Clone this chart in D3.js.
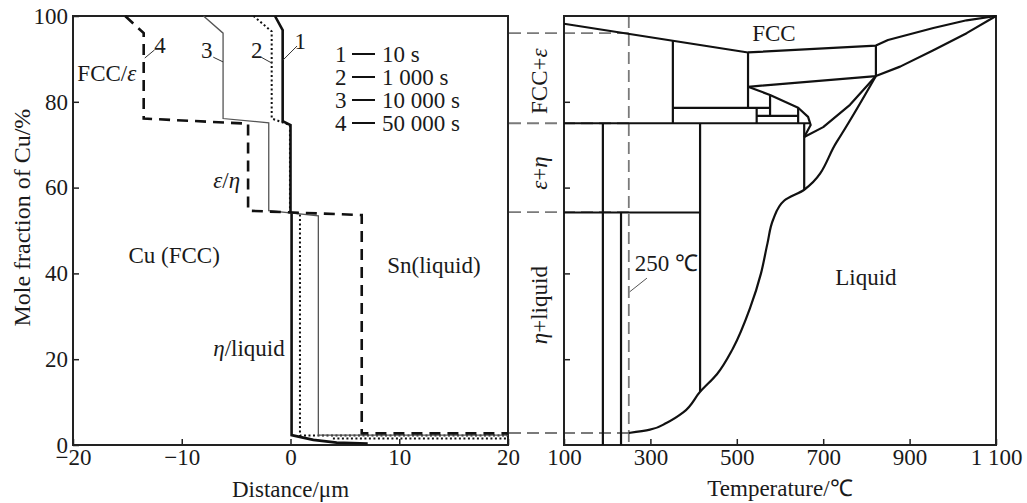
<!DOCTYPE html>
<html>
<head>
<meta charset="utf-8">
<script src="https://cdn.jsdelivr.net/npm/d3@7"></script>
<style>
  body { margin: 0; background: #fff; }
  svg text { font-family: "Liberation Serif", "Times New Roman", serif; fill: #1a1a1a; }
</style>
</head>
<body>
<div id="chart"></div>
<script>
// left panel: mole fraction of Cu vs distance, [distance um, Cu %]
const curve1 = [[-1.43, 100], [-0.72, 96.7], [-0.72, 75.5], [0, 74.6], [0, 54.2], [0.1, 54], [0.1, 2.3],
  [2.1, 1.2], [4.25, 0.55], [7.1, 0.35]];
const curve2 = [[-3.4, 100], [-1.73, 96.4], [-1.73, 76.1], [-0.05, 74.6], [-0.05, 54.1], [0.87, 54], [0.87, 2.2],
  [20, 2.2], null, [3.9, 1.5], [20, 1.5]];
const curve3 = [[-8, 100], [-6.2, 96], [-6.2, 76.1], [-2, 75.1], [-2, 54.6], [2.56, 53.4], [2.56, 2.3], [20, 2.3]];
const curve4 = [[-15.2, 100], [-13.5, 96], [-13.5, 76.1], [-3.9, 74.9], [-3.9, 54.6], [6.55, 53.6], [6.55, 2.7], [20, 2.7]];
const curveIds = ['1', '2', '3', '4'];
const curveTimes = ['10 s', '1 000 s', '10 000 s', '50 000 s'];
// leader lines for the curve numbers [from, to], label at [d, X]
const curveLeaders = [[[-0.7, 89.7], [0.6, 93]], [[-1.7, 89], [-2.7, 90.4]], [[-6.2, 89.3], [-7.1, 90.4]], [[-13.4, 90.2], [-12.5, 92.1]]];
const curveLabelPos = [[0.9, 94.2], [-3.1, 92], [-7.7, 92], [-12, 93.2]];

const xTicksL = [-20, -10, 0, 10, 20];
const yTicks = [0, 20, 40, 60, 80, 100];

// right panel: Cu-Sn phase diagram, [temperature C, Cu %]
const fccBoundary = [[100, 98.2], [526, 91.5], [822, 93.1], [850, 94.4], [955, 97.2], [1032, 99], [1100, 100]];
const epsTop = [[526, 83.5], [822, 86], [878, 88.2], [955, 92], [1032, 96], [1100, 100]];
const epsBulge = [[526, 83.5], [577, 81.6], [642, 78.6], [665, 76.5], [671, 74.6], [656, 71.8]];
const epsLiquidus = [[656, 71.8], [700, 74.1], [762, 79.3], [822, 86]];
const liquidus = [[250, 2.8], [299, 3.6], [338, 5.2], [376, 7.6], [415, 12.4], [454, 16.5], [491, 22.5],
  [531, 32], [556, 40], [571, 47], [584, 52.5], [610, 57], [656, 59.5], [731, 70.6], [822, 86]];
const tieLines = [
  [[100, 75], [671, 75]], [[100, 54.2], [415, 54.2]], [[352, 78.6], [577, 78.6]], [[546, 76.7], [642, 76.7]],
  [[352, 94.3], [352, 75]], [[526, 91.5], [526, 78.6]], [[546, 78.6], [546, 75]], [[577, 81.6], [577, 76.7]],
  [[642, 78.6], [642, 75]], [[656, 75], [656, 59.5]], [[190, 75], [190, 0]], [[232, 54.2], [232, 0]],
  [[415, 75], [415, 12.4]], [[822, 93.1], [822, 86]]
];
const xTicksR = [100, 300, 500, 700, 900, 1100];
const yTicksR = [20, 40, 60, 80];
const connectLevels = [96, 75, 54.3, 2.8];
const holdTemp = 250;

const width = 1027;
const height = 503;
const font = 23;

const svg = d3.select('#chart')
  .append('svg')
  .attr('width', width)
  .attr('height', height)
  .style('background', '#fff');

const xL = d3.scaleLinear().domain([-20, 20]).range([73, 508]);
const xR = d3.scaleLinear().domain([100, 1100]).range([564, 996]);
const y = d3.scaleLinear().domain([0, 100]).range([445, 16]);

const fmt = d3.formatLocale({decimal: '.', thousands: ' ', grouping: [3], currency: ['', ''], minus: '\u2212'}).format(',');

// grey dashed guides
const guides = svg.append('g')
  .attr('stroke', '#7a7a7a')
  .attr('stroke-width', 1.8)
  .attr('stroke-dasharray', '12,6');
guides.selectAll('line')
  .data(connectLevels)
  .join('line')
    .attr('x1', xL(20) + 1)
    .attr('x2', xR(holdTemp))
    .attr('y1', d => y(d))
    .attr('y2', d => y(d));
guides.append('line')
  .attr('x1', xR(holdTemp)).attr('x2', xR(holdTemp))
  .attr('y1', y(100)).attr('y2', y(0));

function styleAxis(g) {
  g.attr('font-family', '"Liberation Serif", serif').attr('font-size', font);
  g.select('.domain').remove();
  g.selectAll('.tick line').attr('stroke', '#222').attr('stroke-width', 1.5);
  g.selectAll('.tick text').attr('fill', '#1a1a1a');
}

// ---------- left panel ----------
svg.append('g')
  .attr('transform', `translate(0, ${y(0)})`)
  .call(d3.axisBottom(xL).tickValues(xTicksL).tickSize(-6).tickSizeOuter(0).tickPadding(4).tickFormat(fmt))
  .call(styleAxis);

svg.append('g')
  .attr('transform', `translate(${xL(-20)}, 0)`)
  .call(d3.axisLeft(y).tickValues(yTicks).tickSize(-6).tickSizeOuter(0).tickPadding(5))
  .call(styleAxis);

svg.append('rect')
  .attr('x', xL(-20)).attr('y', y(100))
  .attr('width', xL(20) - xL(-20)).attr('height', y(0) - y(100))
  .attr('fill', 'none').attr('stroke', '#222').attr('stroke-width', 2);

const lineL = d3.line().defined(d => d !== null).x(d => xL(d[0])).y(d => y(d[1]));
const curveStyles = [
  {stroke: '#111', w: 2.6, dash: null},
  {stroke: '#111', w: 2, dash: '2,2.5'},
  {stroke: '#555', w: 1.3, dash: null},
  {stroke: '#111', w: 2.6, dash: '11,7'}
];
svg.append('g')
  .attr('fill', 'none')
  .selectAll('path')
  .data([curve1, curve2, curve3, curve4])
  .join('path')
    .attr('d', lineL)
    .attr('stroke', (d, i) => curveStyles[i].stroke)
    .attr('stroke-width', (d, i) => curveStyles[i].w)
    .attr('stroke-dasharray', (d, i) => curveStyles[i].dash);

// curve numbers with leaders
svg.append('g')
  .attr('stroke', '#333').attr('stroke-width', 1)
  .selectAll('line')
  .data(curveLeaders)
  .join('line')
    .attr('x1', d => xL(d[0][0])).attr('y1', d => y(d[0][1]))
    .attr('x2', d => xL(d[1][0])).attr('y2', d => y(d[1][1]));
svg.append('g')
  .selectAll('text')
  .data(curveLabelPos)
  .join('text')
    .attr('x', d => xL(d[0]))
    .attr('y', d => y(d[1]))
    .attr('dy', '0.35em')
    .attr('text-anchor', 'middle')
    .attr('font-size', font)
    .text((d, i) => curveIds[i]);

// legend
const legend = svg.append('g').attr('transform', 'translate(335, 54)');
const rows = legend.selectAll('g')
  .data(curveTimes)
  .join('g')
    .attr('transform', (d, i) => `translate(0, ${i * 23})`);
rows.append('text').attr('dy', '0.35em').attr('font-size', font).text((d, i) => curveIds[i]);
rows.append('line').attr('x1', 17).attr('x2', 40).attr('stroke', '#111').attr('stroke-width', 2);
rows.append('text').attr('x', 47).attr('dy', '0.35em').attr('font-size', font).text(d => d);

// region labels, text parts with italic flag
function label(g, parts, x, yy, anchor) {
  const t = g.append('text')
    .attr('x', x).attr('y', yy).attr('dy', '0.35em')
    .attr('font-size', font)
    .attr('text-anchor', anchor || 'start');
  parts.forEach(p => t.append('tspan').attr('font-style', p[1] ? 'italic' : null).text(p[0]));
  return t;
}
const lab = svg.append('g');
label(lab, [['FCC/', 0], ['\u03b5', 1]], xL(-19.6), y(86.7));
label(lab, [['\u03b5', 1], ['/', 0], ['\u03b7', 1]], xL(-7.1), y(61.8));
label(lab, [['Cu (FCC)', 0]], xL(-14.9), y(44.3));
label(lab, [['Sn(liquid)', 0]], xL(8.9), y(42));
label(lab, [['\u03b7', 1], ['/liquid', 0]], xL(-7.1), y(22.6));

svg.append('text')
  .attr('transform', `translate(22, ${y(53)}) rotate(-90)`)
  .attr('text-anchor', 'middle').attr('dy', '0.35em')
  .attr('font-size', 24)
  .text('Mole fraction of Cu/%');
svg.append('text')
  .attr('x', xL(0)).attr('y', 489).attr('dy', '0.35em')
  .attr('text-anchor', 'middle').attr('font-size', font)
  .text('Distance/\u03bcm');

// ---------- right panel ----------
svg.append('g')
  .attr('transform', `translate(0, ${y(0)})`)
  .call(d3.axisBottom(xR).tickValues(xTicksR).tickSize(-6).tickSizeOuter(0).tickPadding(4).tickFormat(fmt))
  .call(styleAxis);
svg.append('g')
  .attr('transform', `translate(${xR(100)}, 0)`)
  .call(d3.axisLeft(y).tickValues(yTicksR).tickSize(-6).tickSizeOuter(0).tickFormat(''))
  .call(styleAxis);

svg.append('rect')
  .attr('x', xR(100)).attr('y', y(100))
  .attr('width', xR(1100) - xR(100)).attr('height', y(0) - y(100))
  .attr('fill', 'none').attr('stroke', '#222').attr('stroke-width', 2);

const lineR = d3.line().x(d => xR(d[0])).y(d => y(d[1]));
const phase = svg.append('g')
  .attr('fill', 'none')
  .attr('stroke', '#111')
  .attr('stroke-width', 2.2)
  .attr('stroke-linejoin', 'round');
phase.selectAll('path.b')
  .data([fccBoundary, epsTop, epsBulge, epsLiquidus])
  .join('path')
    .attr('class', 'b')
    .attr('d', lineR);
phase.append('path')
  .attr('d', d3.line().x(d => xR(d[0])).y(d => y(d[1])).curve(d3.curveMonotoneY)(liquidus));
phase.selectAll('line')
  .data(tieLines)
  .join('line')
    .attr('x1', d => xR(d[0][0])).attr('y1', d => y(d[0][1]))
    .attr('x2', d => xR(d[1][0])).attr('y2', d => y(d[1][1]));

const labR = svg.append('g');
label(labR, [['FCC', 0]], xR(586), y(96), 'middle');
label(labR, [['Liquid', 0]], xR(799), y(39.2), 'middle');
label(labR, [['250 \u2103', 0]], xR(264), y(42.4));
svg.append('line')
  .attr('x1', xR(252)).attr('y1', y(35.7))
  .attr('x2', xR(292)).attr('y2', y(38.9))
  .attr('stroke', '#555').attr('stroke-width', 1);

const sideLabels = [
  {parts: [['FCC+', 0], ['\u03b5', 1]], at: 84.8},
  {parts: [['\u03b5', 1], ['+', 0], ['\u03b7', 1]], at: 63.4},
  {parts: [['\u03b7', 1], ['+liquid', 0]], at: 32.6}
];
sideLabels.forEach(s => {
  const g = svg.append('g').attr('transform', `translate(${xR(100) - 25}, ${y(s.at)}) rotate(-90)`);
  label(g, s.parts, 0, 0, 'middle');
});

svg.append('text')
  .attr('x', xR(600)).attr('y', 488).attr('dy', '0.35em')
  .attr('text-anchor', 'middle').attr('font-size', font)
  .text('Temperature/\u2103');
</script>
</body>
</html>
